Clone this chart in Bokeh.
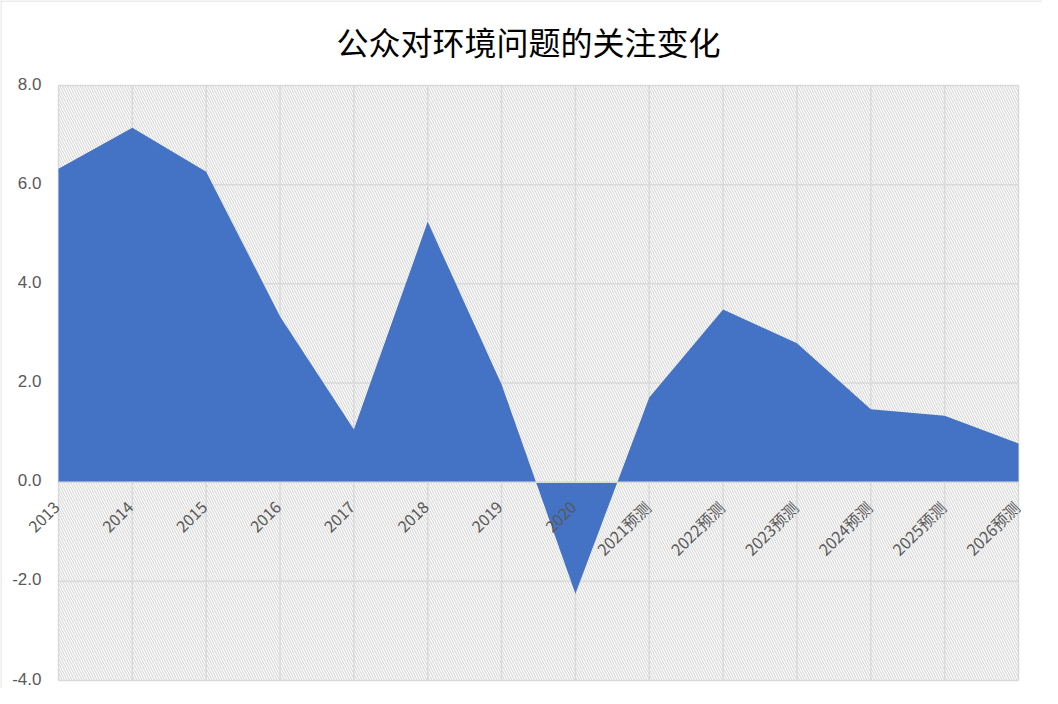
import math
from bokeh.plotting import figure
from bokeh.models import Range1d, ColumnDataSource, Label, LabelSet, Span
from bokeh.core.properties import value
from bokeh.embed import file_html
from bokeh.resources import INLINE

# ---- data ----
categories = ["2013", "2014", "2015", "2016", "2017", "2018", "2019", "2020",
              "2021预测", "2022预测", "2023预测", "2024预测", "2025预测", "2026预测"]
values = [6.32, 7.15, 6.26, 3.34, 1.06, 5.25, 1.97, -2.25,
          1.71, 3.48, 2.80, 1.47, 1.34, 0.78]
y_ticks = [-4, -2, 0, 2, 4, 6, 8]
title_text = "公众对环境问题的关注变化"

GRID = "#d9d9d9"
LABEL = "#595959"
BLUE = "#4472C4"

# ---- layout (pixels) ----
W, H = 1042, 688
PL, PR, PT, PB = 58, 1018, 85, 680     # plot-area edges on the canvas

x = list(range(len(categories)))
x0, x1 = x[0], x[-1]
y0, y1 = y_ticks[0], y_ticks[-1]
sx = (PR - PL) / (x1 - x0)
sy = (PB - PT) / (y1 - y0)
x_range = Range1d(x0 - PL / sx, x1 + (W - PR) / sx)
y_range = Range1d(y0 - (H - PB) / sy, y1 + PT / sy)

src = ColumnDataSource(dict(x=x, v=values, cat=categories, zero=[0] * len(x),
                            gy0=[y0] * len(x), gy1=[y1] * len(x)))
ysrc = ColumnDataSource(dict(y=y_ticks, lab=[f"{t:.1f}" for t in y_ticks],
                             gx0=[x0] * len(y_ticks), gx1=[x1] * len(y_ticks)))

p = figure(width=W, height=H, output_backend="svg", toolbar_location=None,
           x_range=x_range, y_range=y_range,
           x_axis_location=None, y_axis_location=None,
           min_border=0)
p.grid.visible = False
p.outline_line_color = None
p.background_fill_color = "white"
p.border_fill_color = "white"

# outer chart border (left / top edges)
p.add_layout(Span(location=0.5, location_units="screen", dimension="height",
                  line_color=GRID, line_width=1))
p.add_layout(Span(location=H - 0.5, location_units="screen", dimension="width",
                  line_color=GRID, line_width=1))

# hatched plot-area background
p.quad(left=x0, right=x1, bottom=y0, top=y1,
       fill_color=None, line_color=None, hatch_pattern="\\",
       hatch_color="#d9d9d9", hatch_scale=5, hatch_weight=1.2, level="image")

# grid lines
p.segment(x0="gx0", x1="gx1", y0="y", y1="y", source=ysrc,
          line_color=GRID, line_width=1.5, level="underlay")
p.segment(x0="x", x1="x", y0="gy0", y1="gy1", source=src,
          line_color=GRID, line_width=1.5, level="underlay")

# area
p.varea(x="x", y1="zero", y2="v", source=src, fill_color=BLUE, fill_alpha=1.0)

# category axis line at zero
p.segment(x0=x0, x1=x1, y0=0, y1=0, line_color=GRID, line_width=1.5)

# y tick labels
p.add_layout(LabelSet(x=PL - 17, x_units="screen", y="y", text="lab", source=ysrc,
                      text_align="right", text_baseline="middle", y_offset=2,
                      text_font=value("Liberation Sans"), text_font_size=value("17px"),
                      text_color=value(LABEL)))

# category labels along the zero line
p.add_layout(LabelSet(x="x", y="zero", text="cat", source=src, angle=math.pi / 4,
                      text_align="right", text_baseline="middle",
                      x_offset=-2, y_offset=-22,
                      text_font=value("Noto Sans CJK SC"), text_font_size=value("16px"),
                      text_color=value(LABEL)))

# title
p.add_layout(Label(x=(PL + PR) / 2 - 10, y=H - 40, x_units="screen", y_units="screen",
                   text=title_text, text_align="center", text_baseline="middle",
                   text_font="Noto Sans CJK SC", text_font_size="32px",
                   text_color="#000000"))

open("out.html", "w").write(file_html(p, INLINE))
